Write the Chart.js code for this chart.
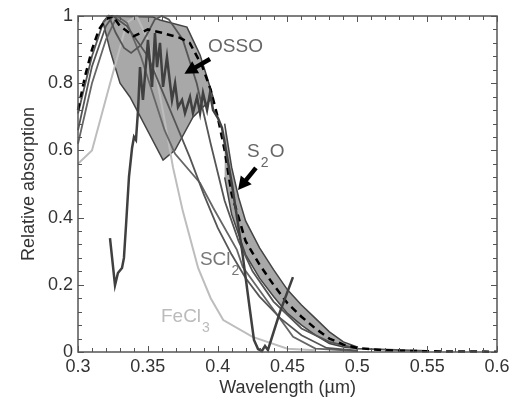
<!DOCTYPE html>
<html>
<head>
<meta charset="utf-8">
<script src="https://cdn.jsdelivr.net/npm/chart.js@4.4.1/dist/chart.umd.min.js"></script>
<style>
  html, body { margin: 0; padding: 0; background: #fff; }
  #wrap { width: 519px; height: 403px; }
</style>
</head>
<body>
<div id="wrap"><canvas id="chart" width="519" height="403"></canvas></div>
<script>
// axis ticks
const xTicks = [0.3, 0.35, 0.4, 0.45, 0.5, 0.55, 0.6];
const xTickLabels = ['0.3', '0.35', '0.4', '0.45', '0.5', '0.55', '0.6'];
const yTicks = [0, 0.2, 0.4, 0.6, 0.8, 1];
const yTickLabels = ['0', '0.2', '0.4', '0.6', '0.8', '1'];

// OSSO measured spectrum (jagged)
const ossoX = [0.3229,0.3265,0.3286,0.3315,0.3329,0.3344,0.3365,0.3387,0.3401,0.3415,0.343,0.3444,0.3465,0.3501,0.353,0.3551,0.3566,0.3587,0.3609,0.3637,0.3673,0.3695,0.3716,0.3745,0.3766,0.3802,0.3823,0.3852,0.3874,0.3895,0.3924,0.3945,0.3967,0.4002,0.4031,0.4103,0.4174,0.4231,0.426,0.4289,0.4317,0.4339,0.436,0.4446,0.4539];
const ossoY = [0.339,0.199,0.235,0.25,0.28,0.378,0.521,0.607,0.64,0.631,0.72,0.848,0.75,0.929,0.789,0.949,0.848,0.92,0.789,0.878,0.75,0.80,0.729,0.75,0.711,0.759,0.711,0.759,0.711,0.771,0.72,0.771,0.72,0.696,0.667,0.497,0.304,0.125,0.036,0.009,0.003,0.018,0.006,0.119,0.223];

// OSSO shaded range (closed outline)
const ossoBandX = [0.3179,0.3215,0.3537,0.3587,0.378,0.3823,0.3874,0.3924,0.3967,0.3823,0.3695,0.3609,0.3372,0.3301,0.3229,0.3179];
const ossoBandY = [0.982,1.0,0.997,0.988,0.967,0.929,0.884,0.818,0.759,0.699,0.601,0.571,0.759,0.80,0.899,0.982];

// S2O (dashed) and its shaded range
const s2oX = [0.30,0.305,0.31,0.315,0.32,0.325,0.33,0.34,0.35,0.36,0.373,0.38,0.389,0.395,0.40,0.405,0.41,0.415,0.42,0.43,0.44,0.45,0.46,0.47,0.48,0.49,0.50,0.52,0.55,0.60];
const s2oY = [0.72,0.82,0.90,0.96,0.99,1.0,0.97,0.94,0.96,0.95,0.935,0.92,0.85,0.78,0.70,0.60,0.47,0.40,0.33,0.26,0.20,0.145,0.105,0.07,0.04,0.022,0.012,0.005,0.002,0.001];
const s2oHiX = [0.405,0.41,0.415,0.42,0.43,0.44,0.45,0.46,0.47,0.48,0.49,0.50];
const s2oHiY = [0.68,0.55,0.46,0.39,0.31,0.245,0.185,0.14,0.10,0.06,0.03,0.015];
const s2oLoX = [0.50,0.49,0.48,0.47,0.46,0.45,0.44,0.43,0.42,0.415,0.41,0.405];
const s2oLoY = [0.01,0.015,0.025,0.05,0.08,0.115,0.165,0.22,0.29,0.35,0.41,0.52];

// SCl2
const scl2X = [0.30,0.31,0.32,0.328,0.335,0.345,0.355,0.362,0.3695,0.3874,0.3967,0.4138,0.418,0.435,0.454,0.47,0.50];
const scl2Y = [0.62,0.80,0.93,1.0,0.98,0.88,0.75,0.66,0.59,0.503,0.43,0.304,0.253,0.155,0.045,0.01,0.003];

// FeCl3
const fecl3X = [0.30,0.31,0.323,0.335,0.342,0.35,0.357,0.362,0.368,0.375,0.386,0.395,0.404,0.425,0.45,0.47];
const fecl3Y = [0.56,0.60,0.80,0.98,1.0,0.93,0.80,0.69,0.55,0.42,0.25,0.16,0.095,0.045,0.01,0.005];

// other calculated spectra (unlabelled)
const specAX = [0.30,0.31,0.318,0.322,0.327,0.333,0.338,0.345,0.35,0.355,0.36,0.365,0.375,0.385,0.395,0.405,0.415,0.425,0.44,0.46,0.48,0.50,0.55];
const specAY = [0.71,0.88,0.98,1.0,0.95,0.905,0.89,0.913,0.95,0.99,1.0,0.99,0.93,0.80,0.62,0.45,0.33,0.24,0.15,0.07,0.03,0.01,0.003];
const specBX = [0.30,0.31,0.32,0.325,0.335,0.35,0.36,0.37,0.38,0.39,0.40,0.41,0.42,0.43,0.445,0.46,0.478,0.50];
const specBY = [0.66,0.85,0.97,1.0,0.97,0.88,0.78,0.68,0.58,0.47,0.37,0.29,0.22,0.165,0.10,0.05,0.012,0.004];

function pts(xs, ys) {
  return xs.map((x, i) => ({ x: x, y: ys[i] }));
}

const FONT = "'Liberation Sans', Arial, sans-serif";

const lineBase = { showLine: true, pointRadius: 0, fill: false, tension: 0, clip: 4 };

// frame, inward ticks and labels
const decorPlugin = {
  id: 'decor',
  afterDatasetsDraw(chart) {
    const ctx = chart.ctx;
    const a = chart.chartArea;
    const xs = chart.scales.x, ys = chart.scales.y;
    ctx.save();
    ctx.strokeStyle = '#555';
    ctx.lineWidth = 1.5;
    ctx.strokeRect(a.left, a.top, a.right - a.left, a.bottom - a.top);
    ctx.lineWidth = 1;
    ctx.beginPath();
    for (let i = 0; i <= 30; i++) {
      const px = Math.round(xs.getPixelForValue(0.3 + i * 0.01)) + 0.5;
      const len = i % 5 === 0 ? 6 : 4;
      ctx.moveTo(px, a.bottom); ctx.lineTo(px, a.bottom - len);
      ctx.moveTo(px, a.top); ctx.lineTo(px, a.top + len);
    }
    for (let i = 0; i <= 25; i++) {
      const py = Math.round(ys.getPixelForValue(i * 0.04)) + 0.5;
      const len = i % 5 === 0 ? 6 : 4;
      ctx.moveTo(a.left, py); ctx.lineTo(a.left + len, py);
      ctx.moveTo(a.right, py); ctx.lineTo(a.right - len, py);
    }
    ctx.stroke();

    const X = v => xs.getPixelForValue(v);
    const Y = v => ys.getPixelForValue(v);

    function label(main, sub, x, y, color) {
      ctx.fillStyle = color;
      ctx.font = '19px ' + FONT;
      ctx.textAlign = 'left';
      ctx.textBaseline = 'alphabetic';
      ctx.fillText(main, x, y);
      const w = ctx.measureText(main).width;
      if (sub) {
        ctx.font = '14px ' + FONT;
        ctx.fillText(sub, x + w + 1, y + 10);
      }
    }
    function arrow(x1, y1, x2, y2) {
      const ang = Math.atan2(y2 - y1, x2 - x1);
      const c = Math.cos(ang), s = Math.sin(ang);
      const head = 13, w = 7;
      ctx.strokeStyle = '#000';
      ctx.fillStyle = '#000';
      ctx.lineWidth = 4.5;
      ctx.beginPath();
      ctx.moveTo(x1, y1);
      ctx.lineTo(x2 - head * 0.8 * c, y2 - head * 0.8 * s);
      ctx.stroke();
      ctx.beginPath();
      ctx.moveTo(x2, y2);
      ctx.lineTo(x2 - head * c + w * s, y2 - head * s - w * c);
      ctx.lineTo(x2 - head * c - w * s, y2 - head * s + w * c);
      ctx.closePath();
      ctx.fill();
    }

    label('OSSO', null, X(0.3931), Y(0.893), '#666');
    arrow(X(0.3945), Y(0.872), X(0.3762), Y(0.828));
    ctx.font = '19px ' + FONT;
    const sw = ctx.measureText('S').width;
    label('S', '2', X(0.421), Y(0.580), '#666');
    ctx.font = '19px ' + FONT;
    ctx.fillText('O', X(0.421) + sw + 10, Y(0.580));
    arrow(X(0.4274), Y(0.548), X(0.4146), Y(0.482));
    label('SCl', '2', X(0.3873), Y(0.259), '#777');
    label('FeCl', '3', X(0.3594), Y(0.089), '#bbb');
    ctx.restore();
  }
};

new Chart(document.getElementById('chart'), {
  type: 'scatter',
  data: {
    datasets: [
      Object.assign({}, lineBase, { label: 'OSSO', data: pts(ossoX, ossoY), borderColor: '#404040', borderWidth: 2.5 }),
      Object.assign({}, lineBase, { label: 'S2O', data: pts(s2oX, s2oY), borderColor: '#000', borderWidth: 2.5, borderDash: [7, 5] }),
      Object.assign({}, lineBase, { label: 'A', data: pts(specAX, specAY), borderColor: '#555', borderWidth: 1.8 }),
      Object.assign({}, lineBase, { label: 'B', data: pts(specBX, specBY), borderColor: '#555', borderWidth: 1.8 }),
      Object.assign({}, lineBase, { label: 'SCl2', data: pts(scl2X, scl2Y), borderColor: '#666', borderWidth: 1.8 }),
      Object.assign({}, lineBase, { label: 'FeCl3', data: pts(fecl3X, fecl3Y), borderColor: '#bdbdbd', borderWidth: 2 }),
      Object.assign({}, lineBase, { label: 'S2O range', data: pts(s2oHiX.concat(s2oLoX), s2oHiY.concat(s2oLoY)),
        borderColor: '#444', borderWidth: 1.5, backgroundColor: '#a8a8a8', fill: 'shape', order: 5 }),
      Object.assign({}, lineBase, { label: 'OSSO range', data: pts(ossoBandX, ossoBandY),
        borderColor: '#444', borderWidth: 1.5, backgroundColor: '#a8a8a8', fill: 'shape', order: 5 })
    ]
  },
  options: {
    responsive: false,
    animation: false,
    layout: { padding: { left: 0, right: 22, top: 16, bottom: 0 } },
    plugins: { legend: { display: false }, tooltip: { enabled: false } },
    scales: {
      x: {
        type: 'linear', min: 0.3, max: 0.6,
        afterFit: s => { s.height = 51; },
        afterBuildTicks: s => { s.ticks = xTicks.map(v => ({ value: v })); },
        grid: { display: false, drawTicks: false },
        border: { display: false },
        ticks: { padding: 4, color: '#333', font: { family: FONT, size: 18 },
          callback: (v, i) => xTickLabels[i], maxRotation: 0, autoSkip: false },
        title: { display: true, text: 'Wavelength (\u00b5m)', color: '#333', font: { family: FONT, size: 18 }, padding: { top: 0, bottom: 4 } }
      },
      y: {
        type: 'linear', min: 0, max: 1,
        afterFit: s => { s.width = 78; },
        afterBuildTicks: s => { s.ticks = yTicks.map(v => ({ value: v })); },
        grid: { display: false, drawTicks: false },
        border: { display: false },
        ticks: { padding: 5, color: '#333', font: { family: FONT, size: 18 },
          callback: (v, i) => yTickLabels[i], autoSkip: false },
        title: { display: true, text: 'Relative absorption', color: '#333', font: { family: FONT, size: 18 }, padding: { top: 18, bottom: 0 } }
      }
    }
  },
  plugins: [decorPlugin]
});
</script>
</body>
</html>
